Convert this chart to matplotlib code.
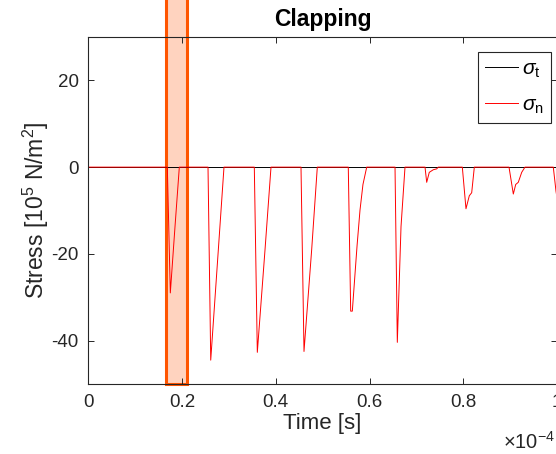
import matplotlib
matplotlib.use("Agg")
import matplotlib.pyplot as plt
from matplotlib.patches import Rectangle
from matplotlib.ticker import FuncFormatter
import numpy as np

plt.rcParams['font.family'] = ['Liberation Sans', 'DejaVu Sans']
plt.rcParams['mathtext.fontset'] = 'custom'
plt.rcParams['mathtext.rm'] = 'Liberation Sans'
plt.rcParams['mathtext.it'] = 'Liberation Sans:italic'
plt.rcParams['axes.unicode_minus'] = False

# ---- data (time in units of 1e-4 s, stress in 1e5 N/m^2) ----
time_e4 = [0.0,
           0.1686, 0.1750, 0.1850, 0.1942,
           0.2554, 0.2612, 0.2774, 0.2895,
           0.3542, 0.3606, 0.3770, 0.3898,
           0.4538, 0.4602, 0.4766, 0.4886,
           0.5547, 0.5598, 0.5633, 0.5712, 0.5735, 0.5797, 0.5860, 0.5940,
           0.6544, 0.6593, 0.6672, 0.6757,
           0.7184, 0.7220, 0.7275, 0.7361, 0.7433, 0.7467,
           0.7980, 0.8058, 0.8129, 0.8180, 0.8236,
           0.8976, 0.9068, 0.9119, 0.9174, 0.9247, 0.9317,
           0.9921, 0.9979, 1.0]
sigma_n = [0.0,
           0.0, -29.0, -13.7, 0.0,
           0.0, -44.5, -19.1, 0.0,
           0.0, -42.7, -19.1, 0.0,
           0.0, -42.5, -19.0, 0.0,
           0.0, -33.2, -33.2, -21.4, -18.0, -9.9, -4.0, 0.0,
           0.0, -40.4, -13.7, 0.0,
           0.0, -3.5, -1.2, -0.6, -0.4, 0.0,
           0.0, -9.6, -6.6, -5.9, 0.0,
           0.0, -6.2, -4.0, -3.5, -1.2, 0.0,
           0.0, -5.6, -7.0]
time_t_e4 = [0.0, 1.0]
sigma_t = [0.0, 0.0]

highlight_e4 = (0.166, 0.211)
x_ticks_e4 = [0, 0.2, 0.4, 0.6, 0.8, 1.0]
y_ticks = [-40, -20, 0, 20]

scale = 1e-4
tn = np.array(time_e4) * scale
tt = np.array(time_t_e4) * scale

fig = plt.figure(figsize=(5.56, 4.54), dpi=100)
ax = fig.add_axes([88.3/556, 1-384/454, (557-88.3)/556, (384-37)/454])

dark = '#262626'
l1, = ax.plot(tt, sigma_t, color='black', lw=0.7, label=r'$\sigma_{\rm t}$', zorder=4)
l2, = ax.plot(tn, sigma_n, color='red', lw=0.7, label=r'$\sigma_{\rm n}$', zorder=5)

ax.set_xlim(0, 1e-4)
ax.set_ylim(-50, 30)

rect = Rectangle((highlight_e4[0]*scale, -50), (highlight_e4[1]-highlight_e4[0])*scale, 200,
                 facecolor='#FFD3BF', edgecolor='#FF5500', lw=2.2, clip_on=False, zorder=1)
ax.add_patch(rect)

ax.set_xticks([v*scale for v in x_ticks_e4])
ax.xaxis.set_major_formatter(FuncFormatter(lambda v, p: ('%g' % round(v/scale, 4))))
ax.set_yticks(y_ticks)
ax.tick_params(direction='in', length=4, width=0.7, colors=dark, labelsize=13.5,
               top=True, right=True, pad=7)
for s in ax.spines.values():
    s.set_color(dark)
    s.set_linewidth(0.8)
    s.set_zorder(6)

ax.set_xlabel('Time [s]', fontsize=16, color=dark, labelpad=2)
ax.set_ylabel(r'Stress [10$^{5}$ N/m$^{2}$]', fontsize=16.5, color=dark, labelpad=0)
ax.set_title('Clapping', fontsize=16.5, fontweight='bold', color='black', pad=8)

fig.text(503/556, 1-442/454, r'$\times10^{-4}$', fontsize=14.5, color=dark, va='center', ha='left')

leg = fig.legend(handles=[l1, l2], loc='upper left',
                 bbox_to_anchor=(478/556, 1-52/454), fontsize=15,
                 frameon=True, fancybox=False, edgecolor=dark, framealpha=1,
                 handlelength=1.55, handletextpad=0.2, borderpad=0.35, labelspacing=0.75,
                 borderaxespad=0)
leg.get_frame().set_linewidth(0.8)
leg.set_zorder(10)

fig.savefig('out.png', dpi=100)
